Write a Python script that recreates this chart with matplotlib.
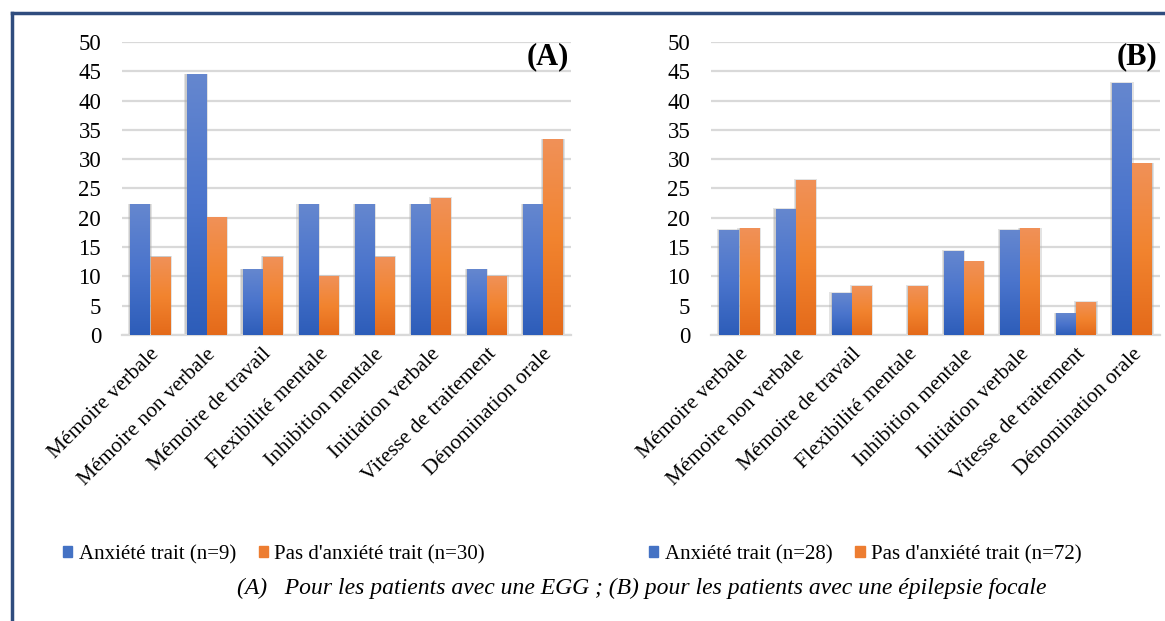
import numpy as np
import matplotlib
matplotlib.use('Agg')
import matplotlib.pyplot as plt
from matplotlib.colors import LinearSegmentedColormap
from matplotlib.patches import Patch
from matplotlib.lines import Line2D

plt.rcParams['font.family'] = ['Liberation Serif', 'DejaVu Serif']

# données
categories = ['Mémoire verbale', 'Mémoire non verbale', 'Mémoire de travail',
              'Flexibilité mentale', 'Inhibition mentale', 'Initiation verbale',
              'Vitesse de traitement', 'Dénomination orale']

a_anx = [22.2, 44.4, 11.1, 22.2, 22.2, 22.2, 11.1, 22.2]
a_pas = [13.3, 20.0, 13.3, 10.0, 13.3, 23.3, 10.0, 33.3]

b_anx = [17.9, 21.4, 7.1, 0.0, 14.3, 17.9, 3.6, 42.9]
b_pas = [18.1, 26.4, 8.3, 8.3, 12.5, 18.1, 5.6, 29.2]

legend_a = ['Anxiété trait (n=9)', "Pas d'anxiété trait (n=30)"]
legend_b = ['Anxiété trait (n=28)', "Pas d'anxiété trait (n=72)"]
caption = '(A)   Pour les patients avec une EGG ; (B) pour les patients avec une épilepsie focale'

blue_cm = LinearSegmentedColormap.from_list('b', ['#2D5DB9', '#4A74CC', '#6587CF'])
orange_cm = LinearSegmentedColormap.from_list('o', ['#E46A1A', '#F2842F', '#F09158'])
blue = '#4472C4'
orange = '#ED7D31'

grad = np.linspace(0, 1, 256).reshape(-1, 1)
W = 0.34
OFF = 0.18


def draw_bars(ax, vals, offset, cmap):
    x = np.arange(len(vals)) + offset
    # ombre
    ax.bar(x, np.array(vals) + 0.4, width=W + 0.08, color='#B0B0B0', alpha=0.35, zorder=2,
           bottom=-0.2)
    ax.bar(x, np.array(vals) + 0.2, width=W + 0.04, color='#A0A0A0', alpha=0.35, zorder=2,
           bottom=-0.1)
    for xi, v in zip(x, vals):
        if v <= 0:
            continue
        ax.imshow(grad, cmap=cmap, origin='lower', aspect='auto',
                  extent=(xi - W / 2, xi + W / 2, 0, v), zorder=3)


def panel(ax, anx, pas, tag):
    draw_bars(ax, anx, -OFF, blue_cm)
    draw_bars(ax, pas, OFF, orange_cm)
    ax.set_xlim(-0.5, len(categories) - 0.5)
    ax.set_ylim(0, 50)
    ax.set_aspect('auto')
    ax.set_yticks(np.arange(0, 51, 5))
    ax.yaxis.grid(True, color='#D9D9D9', linewidth=1.6, zorder=0)
    ax.set_axisbelow(True)
    for s in ['top', 'right', 'left']:
        ax.spines[s].set_visible(False)
    ax.spines['bottom'].set_color('#D9D9D9')
    ax.spines['bottom'].set_linewidth(1.6)
    ax.tick_params(axis='y', length=0, labelsize=16.5, pad=15)
    ax.tick_params(axis='x', length=0, pad=7)
    ax.set_xticks(np.arange(len(categories)))
    ax.set_xticklabels(categories, rotation=45, ha='right', rotation_mode='anchor',
                       fontsize=15.5)
    ax.text(0.995, 0.949, tag, transform=ax.transAxes, ha='right', va='center',
            fontsize=22, fontweight='bold')


fig = plt.figure(figsize=(11.65, 6.21), dpi=100)
ax1 = fig.add_axes([0.1047, 0.4605, 0.3853, 0.472])
ax2 = fig.add_axes([0.6103, 0.4605, 0.3854, 0.472])
panel(ax1, a_anx, a_pas, '(A)')
panel(ax2, b_anx, b_pas, '(B)')

# légendes
h = [Patch(color=blue), Patch(color=orange)]
fig.legend(h, legend_a, loc='center left', bbox_to_anchor=(0.038, 0.107), ncol=2,
           frameon=False, fontsize=15, handlelength=0.45, handleheight=0.45,
           handletextpad=0.3, columnspacing=1.1)
fig.legend(h, legend_b, loc='center left', bbox_to_anchor=(0.541, 0.107), ncol=2,
           frameon=False, fontsize=15, handlelength=0.45, handleheight=0.45,
           handletextpad=0.3, columnspacing=1.1)

fig.text(0.551, 0.053, caption, ha='center', va='center', fontsize=17, style='italic')

# cadre
fig.add_artist(Line2D([0.0105, 1.0], [0.979, 0.979], transform=fig.transFigure,
                      color='#2F4C7E', linewidth=2.5))
fig.add_artist(Line2D([0.0105, 0.0105], [0.0, 0.979], transform=fig.transFigure,
                      color='#2F4C7E', linewidth=2.5))

fig.savefig('out.png', dpi=100)
